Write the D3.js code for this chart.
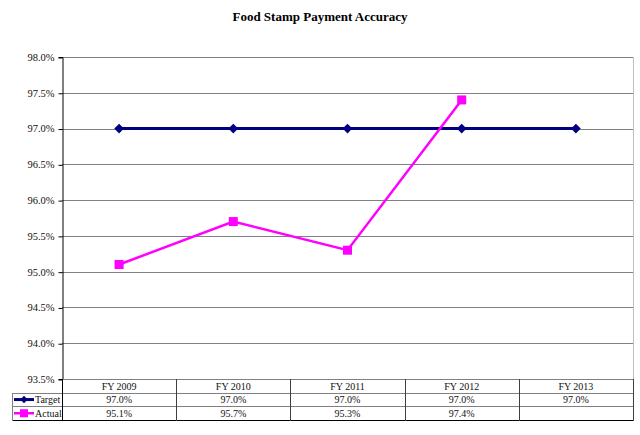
<!DOCTYPE html>
<html><head><meta charset="utf-8">
<script src="https://cdn.jsdelivr.net/npm/d3@7"></script>
<style>body{margin:0;background:#fff}svg{display:block}
svg text{font-family:"Liberation Serif","Times New Roman",Times,"DejaVu Serif",serif}</style>
</head><body>
<script>
const title = "Food Stamp Payment Accuracy";
const categories = ["FY 2009","FY 2010","FY 2011","FY 2012","FY 2013"];
const targetValues = [97.0, 97.0, 97.0, 97.0, 97.0];
const actualValues = [95.1, 95.7, 95.3, 97.4, null];
const yTicks = [93.5, 94.0, 94.5, 95.0, 95.5, 96.0, 96.5, 97.0, 97.5, 98.0];
const seriesNames = ["Target", "Actual"];
const seriesColors = ["#000080", "#FF00FF"];

(function () {
const W = 640, H = 435;
const pL = 62, pR = 633, pT = 57, pB = 379;
const rowH = 13.7;

const svg = d3.select("body").append("svg").attr("width", W).attr("height", H);

const x = d3.scaleBand().domain(categories).range([pL, pR]);
const y = d3.scaleLinear().domain([93.5, 98.0]).range([pB, pT]);

svg.append("text").attr("x", 320).attr("y", 21).attr("text-anchor", "middle")
  .attr("font-weight", "bold").attr("font-size", 13)
  .attr("fill", "#000").text(title);

svg.append("g").selectAll("line").data(yTicks).join("line")
  .attr("x1", pL).attr("x2", pR)
  .attr("y1", d => Math.round(y(d)) + 0.5).attr("y2", d => Math.round(y(d)) + 0.5)
  .attr("stroke", "#808080").attr("stroke-width", 1);

svg.append("line").attr("x1", pR + 0.5).attr("x2", pR + 0.5).attr("y1", pT).attr("y2", pB)
  .attr("stroke", "#c0c0c0");

const yAxis = d3.axisLeft(y).tickValues(yTicks).tickSize(4).tickPadding(4)
  .tickFormat(d => d3.format(".1f")(d) + "%");
const gy = svg.append("g").attr("transform", `translate(${pL + 0.5},0)`).call(yAxis);
gy.attr("font-family", null);
gy.select(".domain").attr("stroke", "#000");
gy.selectAll(".tick line").attr("stroke", "#000").attr("transform", "translate(0,0.5)");
gy.selectAll(".tick text").attr("font-size", 10.5).attr("fill", "#111");

const line = d3.line().defined(d => d != null)
  .x((d, i) => x(categories[i]) + x.bandwidth() / 2).y(d => y(d));

svg.append("path").datum(targetValues).attr("d", line).attr("fill", "none")
  .attr("stroke", seriesColors[0]).attr("stroke-width", 3);
svg.append("path").datum(actualValues).attr("d", line).attr("fill", "none")
  .attr("stroke", seriesColors[1]).attr("stroke-width", 2.5);

const diamond = d3.symbol().type(d3.symbolDiamond2).size(60);
svg.append("g").selectAll("path").data(targetValues).join("path")
  .attr("transform", (d, i) => `translate(${x(categories[i]) + x.bandwidth() / 2},${y(d)})`)
  .attr("d", diamond).attr("fill", seriesColors[0]);

svg.append("g").selectAll("rect").data(actualValues.map((v, i) => ({v, i})).filter(d => d.v != null)).join("rect")
  .attr("x", d => x(categories[d.i]) + x.bandwidth() / 2 - 4.5)
  .attr("y", d => y(d.v) - 4.5).attr("width", 9).attr("height", 9)
  .attr("fill", seriesColors[1]);

const tTop = pB, r1 = tTop + rowH, r2 = r1 + rowH, r3 = r2 + rowH;
const legLeft = 12;
const tg = svg.append("g");
[[pL, tTop], [legLeft, r1], [legLeft, r2]].forEach(([x1, yy]) => {
  tg.append("line").attr("x1", x1).attr("x2", pR + 1).attr("y1", Math.round(yy) + 0.5).attr("y2", Math.round(yy) + 0.5).attr("stroke", "#808080");
});
tg.append("line").attr("x1", legLeft).attr("x2", pR + 1).attr("y1", Math.round(r3) + 0.5).attr("y2", Math.round(r3) + 0.5).attr("stroke", "#000");
tg.append("line").attr("x1", legLeft + 0.5).attr("x2", legLeft + 0.5).attr("y1", Math.round(r1)).attr("y2", Math.round(r3) + 1).attr("stroke", "#808080");
tg.append("line").attr("x1", pL + 0.5).attr("x2", pL + 0.5).attr("y1", tTop).attr("y2", Math.round(r3) + 1).attr("stroke", "#000");
categories.forEach(c => {
  const xx = Math.round(x(c) + x.bandwidth()) + 0.5;
  tg.append("line").attr("x1", xx).attr("x2", xx).attr("y1", tTop).attr("y2", Math.round(r3) + 1).attr("stroke", "#404040");
});
tg.selectAll("text.h").data(categories).join("text").attr("class", "h")
  .attr("x", d => x(d) + x.bandwidth() / 2).attr("y", tTop + 10.5).attr("text-anchor", "middle")
  .attr("font-size", 10).attr("fill", "#111").text(d => d);
const fmt = v => v == null ? "" : d3.format(".1f")(v) + "%";
[targetValues, actualValues].forEach((vals, k) => {
  const base = (k === 0 ? r1 : r2) + 10.5;
  tg.selectAll("text.v" + k).data(vals).join("text").attr("class", "v" + k)
    .attr("x", (d, i) => x(categories[i]) + x.bandwidth() / 2).attr("y", base)
    .attr("text-anchor", "middle").attr("font-size", 10)
    .attr("fill", "#111").text(fmt);
  const cy = (k === 0 ? r1 : r2) + rowH / 2;
  tg.append("line").attr("x1", 14).attr("x2", 34).attr("y1", cy).attr("y2", cy)
    .attr("stroke", seriesColors[k]).attr("stroke-width", k === 0 ? 3 : 2.5);
  if (k === 0) {
    tg.append("path").attr("d", d3.symbol().type(d3.symbolDiamond2).size(36)).attr("transform", `translate(24,${cy})`).attr("fill", seriesColors[0]);
  } else {
    tg.append("rect").attr("x", 20).attr("y", cy - 4).attr("width", 8).attr("height", 8).attr("fill", seriesColors[1]);
  }
  tg.append("text").attr("x", 35).attr("y", base).attr("font-size", 10)
    .attr("fill", "#111").text(seriesNames[k]);
});
})();
</script>
</body></html>
